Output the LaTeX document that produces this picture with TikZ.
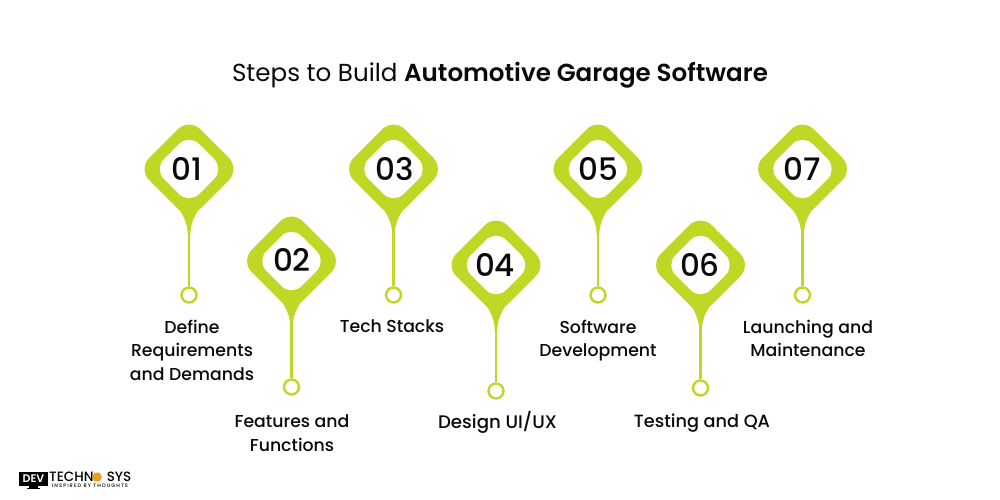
\documentclass[tikz,border=0pt]{standalone}
\usepackage{fontspec}
\usetikzlibrary{shapes.geometric}
\setmainfont{Poppins}
\newfontfamily\pmed{Poppins Medium}
\newfontfamily\pbold{Poppins SemiBold}
\definecolor{lime}{HTML}{C0D725}
\definecolor{ink}{HTML}{0A0A0A}
\definecolor{logoorange}{HTML}{F09A1E}
\tikzset{
  numtext/.style={font=\pmed\fontsize{31}{31}\selectfont,text=ink,inner sep=0pt},
  labeltext/.style={font=\pmed\fontsize{17.3}{23.5}\selectfont,text=ink,align=center,inner sep=0pt},
  endring/.style={circle,draw=lime,line width=2.4pt,fill=white,minimum size=15pt,inner sep=0pt},
  stem/.style={draw=lime,line width=2.6pt},
  logotext/.style={inner sep=0pt,text=black,font=\pmed\fontsize{13.5}{13.5}\selectfont}
}
\newcommand{\pinshape}[2]{%
  \begin{scope}[shift={(#1,#2)}]
    \fill[lime,rounded corners=16pt] (0,-51)--(51,0)--(0,51)--(-51,0)--cycle;
    \fill[lime] (-14,35) .. controls (-7,43) and (-1.3,54) .. (-1.3,65)--(1.3,65) .. controls (1.3,54) and (7,43) .. (14,35)--cycle;
    \fill[white,rounded corners=14pt] (0,-35)--(35,0)--(0,35)--(-35,0)--cycle;
  \end{scope}}
\begin{document}
\begin{tikzpicture}[x=1pt,y=-1pt]
\useasboundingbox[fill=white] (0,0) rectangle (1000,500);
\node[inner sep=0pt,font=\fontsize{24.6}{30}\selectfont,text=ink] (title) at (500,75) {Steps to Build {\pbold Automotive Garage Software}};
% pins
\pinshape{189}{169}
\pinshape{291.5}{261}
\pinshape{393.5}{169}
\pinshape{496}{265}
\pinshape{598}{169}
\pinshape{700.5}{265}
\pinshape{802.5}{169}
\node[numtext] (n1) at (186.5,168.5) {01};
\node[numtext] (n2) at (292,260) {02};
\node[numtext] (n3) at (395,168.5) {03};
\node[numtext] (n4) at (495,265) {04};
\node[numtext] (n5) at (598,168.5) {05};
\node[numtext] (n6) at (700,265) {06};
\node[numtext] (n7) at (802,168.5) {07};
\coordinate (t1) at (189,232);
\coordinate (t2) at (291.5,324);
\coordinate (t3) at (393.5,232);
\coordinate (t4) at (496,328);
\coordinate (t5) at (598,232);
\coordinate (t6) at (700.5,328);
\coordinate (t7) at (802.5,232);
\node[endring] (r1) at (189,295) {};
\node[endring] (r2) at (291.5,387) {};
\node[endring] (r3) at (393.5,295) {};
\node[endring] (r4) at (496,391) {};
\node[endring] (r5) at (598,295) {};
\node[endring] (r6) at (700.5,388) {};
\node[endring] (r7) at (802.5,295) {};
\foreach \i in {1,...,7} {\draw[stem] (t\i) -- (r\i);}
% labels
\node[labeltext] (l1) at (192,350) {Define\\Requirements\\and Demands};
\node[labeltext] (l2) at (292,433) {Features and\\Functions};
\node[labeltext] (l3) at (392,326) {Tech Stacks};
\node[labeltext,font=\pmed\fontsize{18.2}{23.5}\selectfont] (l4) at (497.5,422) {Design UI/UX};
\node[labeltext] (l5) at (598,340.5) {Software\\Development};
\node[labeltext,font=\pmed\fontsize{17.7}{23.5}\selectfont] (l6) at (702,423) {Testing and QA};
\node[labeltext] (l7) at (808,338.5) {Launching and\\Maintenance};
% logo
\fill[black] (19,472) rectangle (48,486);
\fill[black] (29,486) rectangle (38,488);
\fill[black] (27,488) rectangle (40,489);
\node[inner sep=0pt,text=white,font=\pbold\fontsize{11}{11}\selectfont] (dev) at (33.5,479) {DEV};
\node[logotext,anchor=west] (tech) at (49,477) {TECHN};
\node[regular polygon,regular polygon sides=6,fill=logoorange,minimum size=10pt,inner sep=0pt] (hex) at (97,477) {};
\node[logotext,anchor=east] (sys) at (131.5,477) {SYS};
\node[inner sep=0pt,text=black,font=\pmed\addfontfeature{LetterSpace=22}\fontsize{5}{5}\selectfont] (tag) at (90,486.2) {INSPIRED BY THOUGHTS};
\end{tikzpicture}
\end{document}
